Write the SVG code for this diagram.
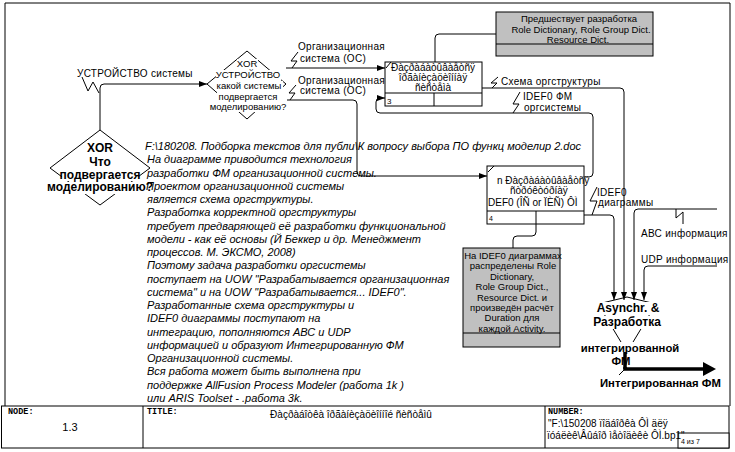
<svg xmlns="http://www.w3.org/2000/svg" width="735" height="452" viewBox="0 0 735 452">
<defs>
<style>
.ln{fill:none;stroke:#000;stroke-width:1}
.t{font-family:"Liberation Sans",Arial,sans-serif;font-size:10px;fill:#000}
.lb{letter-spacing:0.3px}
.s{font-size:9.5px}
.it{font-style:italic;font-size:11px}
.b{font-weight:bold;font-size:12px}
.b2{font-weight:bold;font-size:11.3px}
.m{font-family:"Liberation Mono","Courier New",monospace;font-weight:bold;font-size:8.5px;fill:#000}
.box{fill:#fff;stroke:#000;stroke-width:1}
.grey{fill:#c0c0c0;stroke:#000;stroke-width:1}
.wb{fill:#fff;stroke:none}
.c{text-anchor:middle}
</style>
<marker id="a" viewBox="0 0 8 6" refX="8" refY="3" markerWidth="8" markerHeight="6" markerUnits="userSpaceOnUse" orient="auto"><path d="M0,0 L8,3 L0,6 z" fill="#000"/></marker>
</defs>
<rect x="0" y="0" width="735" height="452" fill="#fff"/>
<g id="frame">
<path class="ln" d="M5,406 V3 H730 V406"/>
<rect class="box" x="1.5" y="406" width="727.5" height="42"/>
<line class="ln" x1="143" y1="406" x2="143" y2="448"/>
<line class="ln" x1="545" y1="406" x2="545" y2="448"/>
<rect class="box" x="678" y="433" width="51" height="15" fill="none"/>
<text class="m" x="8" y="414">NODE:</text>
<text class="t" x="70" y="430.5" style="font-size:11px" text-anchor="middle">1.3</text>
<text class="m" x="147" y="414">TITLE:</text>
<text class="t c" x="351" y="417.5">Ðàçðàáîòêà îðãàíèçàöèîííîé ñèñòåìû</text>
<text class="m" x="548" y="414">NUMBER:</text>
<text class="t" x="548" y="426.5">"F:\150208 ïîäáîðêà ÔÌ äëÿ</text>
<text class="t" x="547" y="438.5">ïóáëèê\Âûáîð ìåòîäèêè ÔÌ.bp1"</text>
<text class="t" x="681" y="444" style="font-size:7px">4 из 7</text>
</g>
<g id="notes">
<text class="t it" x="146">
<tspan x="145" y="150">F:\180208. Подборка текстов для публи\К вопросу выбора ПО функц моделир 2.doc</tspan>
<tspan x="147" y="163.3">На диаграмме приводится технология</tspan>
<tspan x="147" y="176.5">разработки ФМ организационной системы.</tspan>
<tspan x="146" y="189.8">Проектом организационной системы</tspan>
<tspan x="147" y="203">является схема оргструктуры.</tspan>
<tspan x="147" y="216.3">Разработка корректной оргструктуры</tspan>
<tspan x="147" y="229.5">требует предваряющей её разработки функциональной</tspan>
<tspan x="147" y="242.8">модели - как её основы (Й Беккер и др. Менеджмент</tspan>
<tspan x="147" y="256">процессов. М. ЭКСМО, 2008)</tspan>
<tspan x="147" y="269.3">Поэтому задача разработки оргсистемы</tspan>
<tspan x="147" y="282.5">поступает на UOW "Разрабатывается организационная</tspan>
<tspan x="147" y="295.8">система" и на UOW "Разрабатывается... IDEF0".</tspan>
<tspan x="147" y="309">Разработанные схема оргструктуры и</tspan>
<tspan x="147" y="322.3">IDEF0 диаграммы поступают на</tspan>
<tspan x="147" y="335.5">интеграцию, пополняются АВС и UDP</tspan>
<tspan x="147" y="348.8">информацией и образуют Интегрированную ФМ</tspan>
<tspan x="147" y="362">Организационной системы.</tspan>
<tspan x="147" y="375.3">Вся работа может быть выполнена при</tspan>
<tspan x="147" y="388.5">поддержке AllFusion Process Modeler (работа 1k )</tspan>
<tspan x="147" y="401.8">или ARIS Toolset - .работа 3k.</tspan>
</text>
</g>
<g id="connectors">
<path class="ln" d="M100,130 V88 Q100,84 104,84 H207" marker-end="url(#a)"/>
<polyline class="ln" points="82,77 88,91 93,82 99,93"/>
<text class="t lb" x="77" y="76.5">УСТРОЙСТВО системы</text>
<path class="ln" d="M286,68 H385" marker-end="url(#a)"/>
<polyline class="ln" points="298,52 291,61 297,61 292,68"/>
<text class="t lb" x="298" y="49.5">Организационная</text>
<text class="t lb" x="300" y="61.5">система (ОС)</text>
<path class="ln" d="M287,100 H353 Q357,100 357,104 V172 Q357,176 361,176 H487" marker-end="url(#a)"/>
<polyline class="ln" points="296,85 289,93 295,93 290,100"/>
<text class="t lb" x="298" y="83.5">Организационная</text>
<text class="t lb" x="300" y="94">система (ОС)</text>
<path class="ln" d="M496,34 H439 Q435,34 435,38 V62"/>
<path class="ln" d="M482,88 H620 Q624,88 624,92 V300" marker-end="url(#a)"/>
<polyline class="ln" points="498,77 491,83 497,83 492,88"/>
<text class="t lb" x="501" y="84.5">Схема оргструктуры</text>
<path class="ln" d="M584,177 H589 Q593,177 593,173 V117 Q593,113 589,113 H380 Q376,113 376,109 V102 Q376,98 380,98 H385" marker-end="url(#a)"/>
<polyline class="ln" points="520,92 513,104 519,104 513,113"/>
<text class="t lb" x="523" y="100">IDEF0 ФМ</text>
<text class="t lb" x="524" y="110.5">оргсистемы</text>
<path class="ln" d="M584,215 H610 Q614,215 614,219 V300" marker-end="url(#a)"/>
<polyline class="ln" points="597,187 590,201 597,201 592,215"/>
<text class="t lb" x="597" y="196">IDEF0</text>
<text class="t lb" x="598" y="206">диаграммы</text>
<path class="ln" d="M717,209 H638 Q634,209 634,213 V300" marker-end="url(#a)"/>
<polyline class="ln" points="676,209 676,218 683,212 683,224"/>
<text class="t lb" x="641" y="237">АВС информация</text>
<path class="ln" d="M717,266 H648 Q644,266 644,270 V300" marker-end="url(#a)"/>
<text class="t lb" x="641" y="263">UDP информация</text>
<path class="ln" d="M536,224 V232 Q536,236 532,236 H517 Q513,236 513,240 V248"/>
<path d="M625,352 V369 H704" fill="none" stroke="#000" stroke-width="3.5"/>
<path d="M703,362 L716,369 L703,376 z" fill="#000"/>
<line class="ln" x1="619" y1="375" x2="625" y2="369"/>
<text class="t b2" x="600" y="387">Интегрированная ФМ</text>
</g>
<g id="node-xor-what">
<polygon class="ln" points="100,130 150,168 100,205 50,168"/>
<rect class="wb" x="87" y="142" width="26" height="12"/>
<rect class="wb" x="88" y="156" width="24" height="12"/>
<rect class="wb" x="62" y="169" width="77" height="12"/>
<rect class="wb" x="52" y="182" width="94" height="12"/>
<text class="t b c" x="100" y="152">XOR</text>
<text class="t b c" x="100" y="165.5">Что</text>
<text class="t b c" x="100" y="178.5">подвергается</text>
<text class="t b c" x="100" y="191">моделированию?</text>
</g>
<g id="node-xor-device">
<polygon class="ln" points="247,51 286,84 247,119 207,84"/>
<rect class="wb" x="237" y="59" width="21" height="10"/>
<rect class="wb" x="216" y="70" width="65" height="10"/>
<rect class="wb" x="215" y="81" width="68" height="10"/>
<rect class="wb" x="217" y="91" width="62" height="11"/>
<rect class="wb" x="210" y="102" width="76" height="10"/>
<text class="t s c" x="247" y="67">XOR</text>
<text class="t s c" x="248" y="78">УСТРОЙСТВО</text>
<text class="t s c" x="249" y="88.5">какой системы</text>
<text class="t s c" x="248" y="99.5">подвергается</text>
<text class="t s c" x="248" y="110">моделированию?</text>
</g>
<g id="node-precedes">
<rect class="grey" x="496" y="12" width="157" height="44"/>
<line class="ln" x1="496" y1="44" x2="653" y2="44"/>
<text class="t s c" x="579" y="22">Предшествует разработка</text>
<text class="t s c" x="581" y="32.5">Role Dictionary, Role Group Dict.</text>
<text class="t s c" x="578" y="43">Resource Dict.</text>
</g>
<g id="node-uow3">
<rect class="box" x="385" y="62" width="97" height="44"/>
<line class="ln" x1="385" y1="93" x2="482" y2="93"/>
<line class="ln" x1="434" y1="93" x2="434" y2="106"/>
<line class="ln" x1="386" y1="68" x2="391" y2="62"/>
<text class="t c" x="433" y="70.5">Ðàçðàáàòûâàåòñÿ</text>
<text class="t c" x="433" y="81">îðãàíèçàöèîííàÿ</text>
<text class="t c" x="433" y="91">ñèñòåìà</text>
<text class="t" x="387" y="104" style="font-size:8px">3</text>
</g>
<g id="node-uow4">
<rect class="box" x="487" y="166" width="97" height="58"/>
<line class="ln" x1="487" y1="211" x2="584" y2="211"/>
<line class="ln" x1="536" y1="211" x2="536" y2="224"/>
<line class="ln" x1="488" y1="172" x2="494" y2="166"/>
<text class="t" x="497" y="183.5">n Ðàçðàáàòûâàåòñÿ</text>
<text class="t" x="510" y="194">ñòðóêòóðíàÿ</text>
<text class="t" x="488" y="205.5">DEF0 (ÎÑ or ÏÈÑ) ÔÌ</text>
<text class="t" x="489" y="221" style="font-size:7px">4</text>
</g>
<g id="node-note-idef0">
<rect class="grey" x="463" y="248" width="97" height="99"/>
<line class="ln" x1="463" y1="333" x2="560" y2="333"/>
<text class="t s c" x="513" y="258.5">На IDEF0 диаграммах</text>
<text class="t s c" x="513" y="269">распределены Role</text>
<text class="t s c" x="512" y="279.5">Dictionary,</text>
<text class="t s c" x="512" y="290">Role Group Dict.,</text>
<text class="t s c" x="512" y="300.5">Resource Dict. и</text>
<text class="t s c" x="512" y="311">произведён расчёт</text>
<text class="t s c" x="512" y="321">Duration для</text>
<text class="t s c" x="512" y="331.5">каждой Activity.</text>
</g>
<g id="node-async">
<polygon class="ln" points="627,297 656,304 627,352 598,304"/>
<rect class="wb" x="596" y="302" width="64" height="13"/>
<rect class="wb" x="597" y="316" width="62" height="13"/>
<rect class="wb" x="579" y="342" width="102" height="13"/>
<rect class="wb" x="613" y="355" width="20" height="12"/>
<text class="t b c" x="628" y="312">Asynchr. &amp;</text>
<text class="t b c" x="627" y="326">Разработка</text>
<text class="t b2 c" x="630" y="351.5">интегрированной</text>
<text class="t b2 c" x="621" y="364.5">ФМ</text>
<path d="M625,352 V369" fill="none" stroke="#000" stroke-width="3.5"/>
</g>
</svg>
